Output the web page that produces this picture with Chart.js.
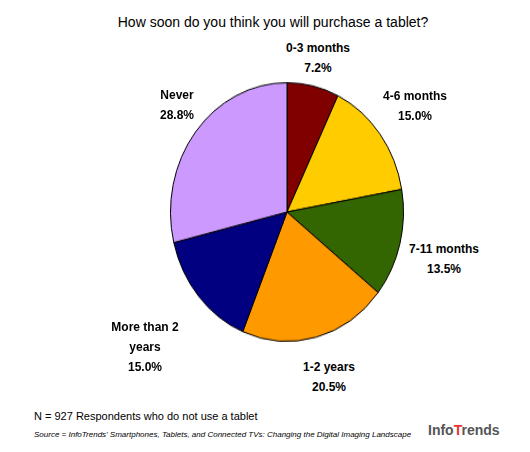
<!DOCTYPE html>
<html>
<head>
<meta charset="utf-8">
<script src="https://cdn.jsdelivr.net/npm/chart.js@4"></script>
<style>
  body { margin: 0; width: 530px; height: 452px; background: #fff; position: relative; overflow: hidden; font-family: Arial, "Liberation Sans", sans-serif; }
  #pieWrap { position: absolute; left: 167px; top: 92px; width: 240px; height: 240px; transform: scaleY(1.11); transform-origin: center; }
  .lbl { position: absolute; font-weight: bold; font-size: 12px; text-align: center; line-height: 20px; transform: translateX(-50%); white-space: nowrap; color: #000; }
  #title { position: absolute; top: 14px; left: 0; width: 546px; text-align: center; font-size: 14px; }
  #note { position: absolute; left: 34px; top: 410px; font-size: 11px; }
  #source { position: absolute; left: 34px; top: 430px; font-size: 8px; font-style: italic; }
  #logo { position: absolute; left: 428px; top: 422px; font-size: 14px; font-weight: bold; color: #555; }
  #logo span { color: #e33; }
</style>
</head>
<body>
<div id="title">How soon do you think you will purchase a tablet?</div>
<div id="pieWrap"><canvas id="pie" width="240" height="240"></canvas></div>
<div id="labels"></div>
<div id="note">N = 927 Respondents who do not use a tablet</div>
<div id="source">Source = InfoTrends' Smartphones, Tablets, and Connected TVs: Changing the Digital Imaging Landscape</div>
<div id="logo">Info<span>T</span>rends</div>
<script>
const categories = ['0-3 months', '4-6 months', '7-11 months', '1-2 years', 'More than 2 years', 'Never']
const shares = [7.2, 15.0, 13.5, 20.5, 15.0, 28.8]
const colors = ['#800000', '#FFCC00', '#336600', '#FF9900', '#000080', '#CC99FF']

// label text lines and where they sit
const labelLines = [['0-3 months'], ['4-6 months'], ['7-11 months'], ['1-2 years'], ['More than 2', 'years'], ['Never']]
const labelPos = [[318, 38], [415, 86], [444, 239], [329, 357], [145, 317], [177, 85]]

labelLines.forEach(function (lines, i) {
    const el = document.createElement('div')
    el.className = 'lbl'
    el.style.left = labelPos[i][0] + 'px'
    el.style.top = labelPos[i][1] + 'px'
    el.innerHTML = lines.join('<br>') + '<br>' + shares[i].toFixed(1) + '%'
    document.getElementById('labels').appendChild(el)
})

new Chart(document.getElementById('pie'), {
    type: 'pie',
    data: {
        labels: categories,
        datasets: [{
            data: shares,
            backgroundColor: colors,
            borderColor: '#000',
            borderWidth: 1
        }]
    },
    options: {
        responsive: false,
        animation: false,
        layout: { padding: 3 },
        plugins: {
            legend: { display: false },
            tooltip: { enabled: false }
        }
    }
});
</script>
</body>
</html>
